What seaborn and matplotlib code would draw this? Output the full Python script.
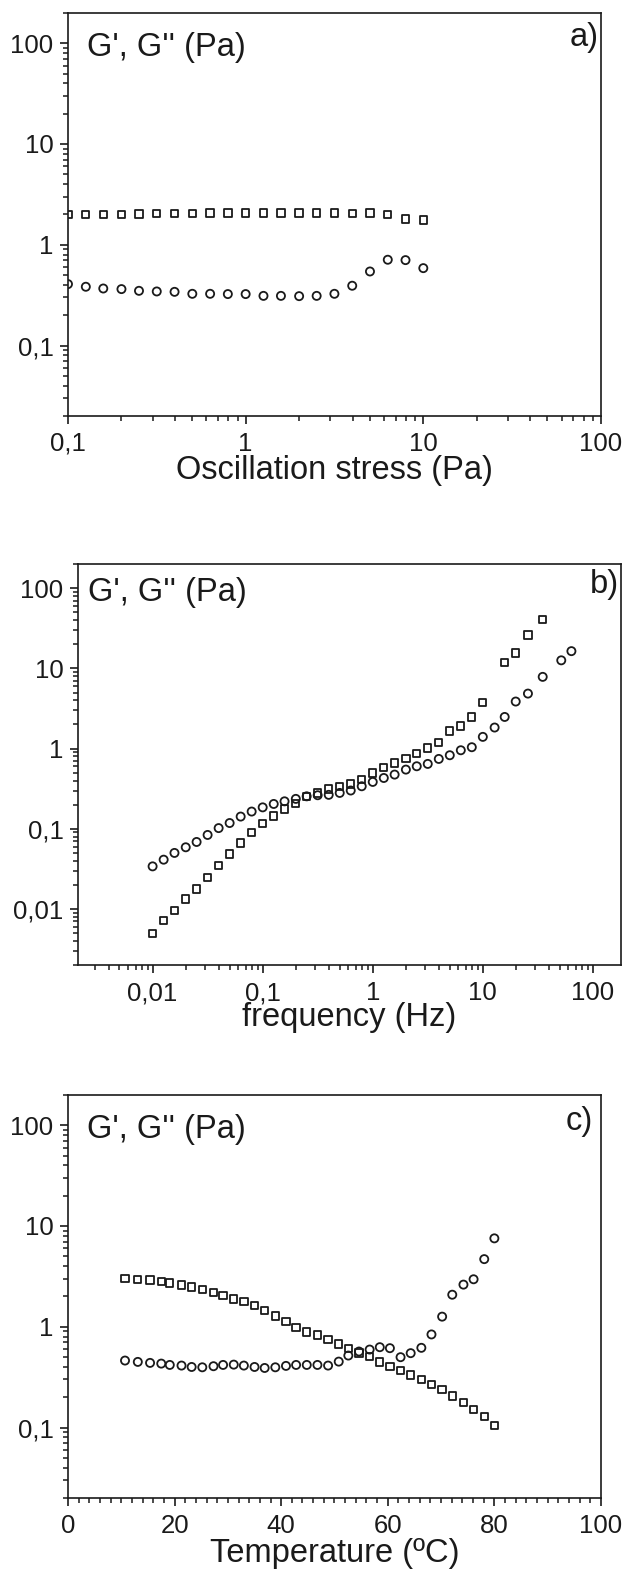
import seaborn as sns
import matplotlib.pyplot as plt
from matplotlib.ticker import LogLocator, MultipleLocator, NullFormatter

sns.set_style("ticks")
plt.rcParams['font.family'] = ['Liberation Sans', 'DejaVu Sans']

# a) stress sweep
stress = [0.1, 0.126, 0.158, 0.2, 0.251, 0.316, 0.398, 0.501, 0.631, 0.794, 1.0,
          1.26, 1.58, 2.0, 2.51, 3.16, 3.98, 5.01, 6.31, 7.94, 10.0]
gp_a = [1.99, 2.0, 2.0, 2.01, 2.02, 2.03, 2.05, 2.05, 2.07, 2.07, 2.07,
        2.07, 2.07, 2.06, 2.06, 2.06, 2.05, 2.06, 1.99, 1.80, 1.76]
gpp_a = [0.407, 0.383, 0.368, 0.363, 0.349, 0.344, 0.341, 0.326, 0.326, 0.324, 0.324,
         0.311, 0.311, 0.309, 0.311, 0.326, 0.392, 0.543, 0.71, 0.704, 0.586]

# b) frequency sweep
freq_gp = [0.01, 0.0126, 0.0158, 0.02, 0.0251, 0.0316, 0.0398, 0.0501, 0.0631, 0.0794,
           0.1, 0.126, 0.158, 0.2, 0.251, 0.316, 0.398, 0.501, 0.631, 0.794,
           1.0, 1.26, 1.58, 2.0, 2.51, 3.16, 3.98, 5.01, 6.31, 7.94, 10.0,
           15.8, 19.9, 25.7, 35.0]
gp_b = [0.00492, 0.00722, 0.00953, 0.0133, 0.0178, 0.0248, 0.0347, 0.0486, 0.0665, 0.0904,
        0.116, 0.145, 0.177, 0.206, 0.254, 0.28, 0.314, 0.339, 0.362, 0.41,
        0.497, 0.579, 0.663, 0.757, 0.866, 1.02, 1.18, 1.66, 1.92, 2.48, 3.75,
        11.8, 15.5, 26.2, 40.7]
freq_gpp = [0.01, 0.0126, 0.0158, 0.02, 0.0251, 0.0316, 0.0398, 0.0501, 0.0631, 0.0794,
            0.1, 0.126, 0.158, 0.2, 0.251, 0.316, 0.398, 0.501, 0.631, 0.794,
            1.0, 1.26, 1.58, 2.0, 2.51, 3.16, 3.98, 5.01, 6.31, 7.94, 10.0,
            12.8, 15.8, 19.9, 25.7, 35.0, 51.6, 63.8]
gpp_b = [0.034, 0.0412, 0.050, 0.0588, 0.0685, 0.0838, 0.102, 0.118, 0.142, 0.164,
         0.185, 0.204, 0.220, 0.236, 0.254, 0.262, 0.265, 0.28, 0.30, 0.339,
         0.384, 0.43, 0.474, 0.547, 0.602, 0.644, 0.743, 0.826, 0.953, 1.04, 1.40,
         1.83, 2.48, 3.86, 4.85, 7.84, 12.6, 16.4]

# c) temperature sweep
temp = [10.7, 13.1, 15.4, 17.5, 19.1, 21.3, 23.2, 25.2, 27.3, 29.1, 31.1, 33.0,
        35.0, 36.9, 38.9, 40.9, 42.8, 44.8, 46.8, 48.8, 50.8, 52.6, 54.6, 56.6,
        58.5, 60.4, 62.4, 64.3, 66.3, 68.2, 70.2, 72.1, 74.2, 76.1, 78.1, 80.0]
gp_c = [3.01, 2.96, 2.90, 2.83, 2.72, 2.60, 2.48, 2.36, 2.20, 2.05, 1.89, 1.77,
        1.63, 1.45, 1.28, 1.12, 0.99, 0.89, 0.826, 0.742, 0.677, 0.608, 0.551, 0.51,
        0.448, 0.406, 0.367, 0.332, 0.299, 0.268, 0.237, 0.205, 0.176, 0.151, 0.129, 0.105]
gpp_c = [0.462, 0.448, 0.438, 0.431, 0.418, 0.412, 0.399, 0.396, 0.406, 0.418, 0.421, 0.412,
         0.399, 0.39, 0.396, 0.409, 0.418, 0.418, 0.418, 0.412, 0.451, 0.518, 0.568, 0.594,
         0.627, 0.613, 0.499, 0.547, 0.618, 0.839, 1.26, 2.08, 2.62, 2.96, 4.69, 7.54]

ink = '#1a1a1a'

fig = plt.figure(figsize=(6.26, 15.72), dpi=100)
ax_a = fig.add_axes([0.1086, 0.7354, 0.8514, 0.2564])
ax_b = fig.add_axes([0.1246, 0.3861, 0.8674, 0.2551])
ax_c = fig.add_axes([0.1086, 0.0471, 0.8514, 0.2564])


def points(ax, x, y, marker, size):
    sns.scatterplot(x=x, y=y, marker=marker, s=size, facecolors='none',
                    edgecolor=ink, linewidth=1.3, ax=ax, zorder=3)


def style(ax):
    for sp in ax.spines.values():
        sp.set_linewidth(1.2)
        sp.set_color(ink)
    ax.tick_params(which='major', length=6, width=1.2, labelsize=18.5, pad=5.5,
                   color=ink, labelcolor=ink, top=False, right=False)
    ax.tick_params(which='minor', length=3.6, width=1.1, color=ink, top=False, right=False)
    ax.tick_params(axis='y', which='major', pad=4.5)
    ax.set_yscale('log')
    ax.yaxis.set_minor_locator(LogLocator(base=10, subs=range(2, 10), numticks=20))
    ax.yaxis.set_minor_formatter(NullFormatter())


# panel a
points(ax_a, stress, gp_a, 's', 28)
points(ax_a, stress, gpp_a, 'o', 34)
style(ax_a)
ax_a.set_xscale('log')
ax_a.set_xlim(0.1, 100)
ax_a.set_ylim(0.02, 200)
ax_a.set_xticks([0.1, 1, 10, 100], ['0,1', '1', '10', '100'])
ax_a.set_yticks([0.1, 1, 10, 100], ['0,1', '1', '10', '100'])
ax_a.xaxis.set_minor_locator(LogLocator(base=10, subs=range(2, 10), numticks=20))
ax_a.xaxis.set_minor_formatter(NullFormatter())
ax_a.set_xlabel('Oscillation stress (Pa)', fontsize=23.5, labelpad=-1, color=ink)
ax_a.text(0.036, 0.913, "G', G'' (Pa)", transform=ax_a.transAxes, fontsize=23.5,
          ha='left', va='center', color=ink)
ax_a.text(0.995, 0.938, 'a)', transform=ax_a.transAxes, fontsize=23.5,
          ha='right', va='center', color=ink)

# panel b
points(ax_b, freq_gp, gp_b, 's', 28)
points(ax_b, freq_gpp, gpp_b, 'o', 34)
style(ax_b)
ax_b.set_xscale('log')
ax_b.set_xlim(0.0021, 180)
ax_b.set_ylim(0.002, 200)
ax_b.set_xticks([0.01, 0.1, 1, 10, 100], ['0,01', '0,1', '1', '10', '100'])
ax_b.set_yticks([0.01, 0.1, 1, 10, 100], ['0,01', '0,1', '1', '10', '100'])
ax_b.xaxis.set_minor_locator(LogLocator(base=10, subs=range(2, 10), numticks=20))
ax_b.xaxis.set_minor_formatter(NullFormatter())
ax_b.set_xlabel('frequency (Hz)', fontsize=23.5, labelpad=-2, color=ink)
ax_b.text(0.018, 0.928, "G', G'' (Pa)", transform=ax_b.transAxes, fontsize=23.5,
          ha='left', va='center', color=ink)
ax_b.text(0.996, 0.948, 'b)', transform=ax_b.transAxes, fontsize=23.5,
          ha='right', va='center', color=ink)

# panel c
points(ax_c, temp, gp_c, 's', 28)
points(ax_c, temp, gpp_c, 'o', 34)
style(ax_c)
ax_c.set_xlim(0, 100)
ax_c.set_ylim(0.02, 200)
ax_c.set_xticks([0, 20, 40, 60, 80, 100], ['0', '20', '40', '60', '80', '100'])
ax_c.set_yticks([0.1, 1, 10, 100], ['0,1', '1', '10', '100'])
ax_c.xaxis.set_minor_locator(MultipleLocator(2))
ax_c.set_xlabel('Temperature (ºC)', fontsize=23.5, labelpad=0, color=ink)
ax_c.text(0.036, 0.913, "G', G'' (Pa)", transform=ax_c.transAxes, fontsize=23.5,
          ha='left', va='center', color=ink)
ax_c.text(0.985, 0.933, 'c)', transform=ax_c.transAxes, fontsize=23.5,
          ha='right', va='center', color=ink)

fig.savefig('out.png', dpi=100)
